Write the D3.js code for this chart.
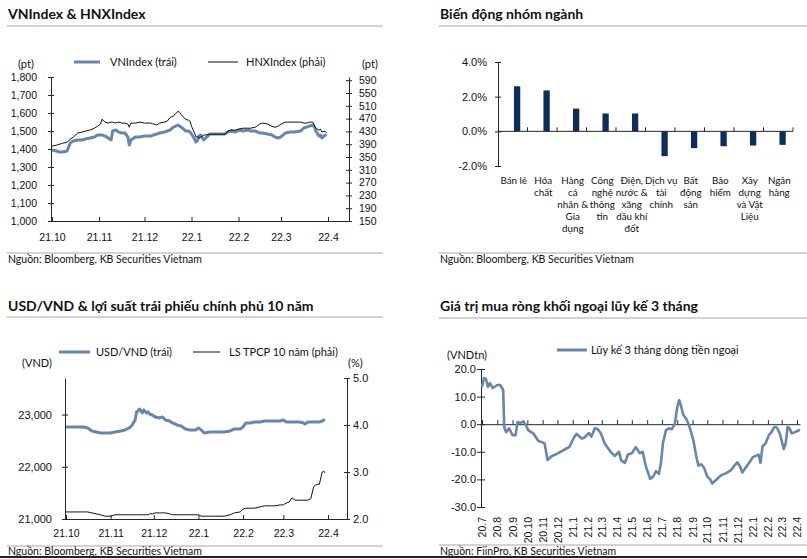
<!DOCTYPE html>
<html><head><meta charset="utf-8">
<script src="https://cdn.jsdelivr.net/npm/d3@7"></script>
<style>body{margin:0;background:#fff}svg{display:block}</style>
</head><body>
<svg id="c" width="807" height="559"></svg>
<script>
// ---------------- DATA ----------------
const indexDates = ["2021-10-01","2021-10-04","2021-10-06","2021-10-08","2021-10-11","2021-10-13","2021-10-15","2021-10-18","2021-10-21","2021-10-23","2021-10-26","2021-10-29","2021-10-31",
"2021-11-02","2021-11-03","2021-11-05","2021-11-07","2021-11-09","2021-11-10","2021-11-12","2021-11-14","2021-11-16","2021-11-18","2021-11-20","2021-11-21","2021-11-22","2021-11-25","2021-11-28",
"2021-12-01","2021-12-05","2021-12-07","2021-12-09","2021-12-11","2021-12-14","2021-12-16","2021-12-18","2021-12-20","2021-12-22","2021-12-23","2021-12-24","2021-12-26","2021-12-28","2021-12-30","2021-12-31",
"2022-01-01","2022-01-03","2022-01-04","2022-01-05","2022-01-06","2022-01-07","2022-01-09","2022-01-13","2022-01-16","2022-01-19","2022-01-23","2022-01-25","2022-01-27","2022-01-30",
"2022-02-01","2022-02-04","2022-02-07","2022-02-09","2022-02-12","2022-02-15","2022-02-17","2022-02-20","2022-02-23","2022-02-25","2022-02-27",
"2022-03-01","2022-03-04","2022-03-07","2022-03-10","2022-03-14","2022-03-16","2022-03-18","2022-03-20","2022-03-22","2022-03-23","2022-03-24","2022-03-26","2022-03-27","2022-03-28","2022-03-30","2022-03-31"];
const vnIndex = [1394,1389,1383,1383,1389,1433,1444,1450,1450,1456,1461,1467,1478,
1478,1478,1472,1461,1450,1500,1506,1494,1489,1489,1467,1422,1450,1467,1467,
1472,1472,1478,1483,1489,1494,1500,1506,1522,1528,1533,1528,1517,1500,1500,1494,
1483,1456,1439,1450,1472,1478,1450,1483,1483,1483,1483,1494,1500,1494,
1506,1500,1506,1500,1500,1489,1489,1483,1478,1467,1461,
1467,1489,1494,1494,1500,1517,1522,1528,1533,1522,1500,1472,1478,1461,1478,1472];
const hnxIndex = [384,387,390,393,396,406,412,425,428,431,434,440,446,
453,468,459,456,459,459,456,459,456,456,453,443,456,456,459,
456,456,453,450,456,459,462,474,478,487,493,490,478,468,465,462,
446,425,412,415,409,412,418,421,421,421,421,431,434,434,
437,440,440,440,443,453,456,453,446,443,446,
453,459,459,459,459,456,456,459,459,450,440,434,437,428,431,425];
const indexMonthTicks = ["2021-10-01","2021-11-01","2021-12-01","2022-01-01","2022-02-01","2022-03-01","2022-04-01"];
const vnTicks = [1000,1100,1200,1300,1400,1500,1600,1700,1800];
const hnxTicks = [150,190,230,270,310,350,390,430,470,510,550,590];

const sectorNames = ["Bán lẻ","Hóa\nchất","Hàng\ncá\nnhân &\nGia\ndụng","Công\nnghệ\nthông\ntin","Điện,\nnước &\nxăng\ndầu khí\nđốt","Dịch vụ\ntài\nchính","Bất\nđộng\nsản","Bảo\nhiểm","Xây\ndựng\nvà Vật\nLiệu","Ngân\nhàng"];
const sectorChange = [2.6, 2.36, 1.31, 1.03, 1.03, -1.43, -0.97, -0.86, -0.82, -0.78];
const sectorTicks = [-2, 0, 2, 4];

const fxDates = ["2021-10-01","2021-10-05","2021-10-09","2021-10-13","2021-10-16","2021-10-19","2021-10-22","2021-10-25","2021-10-28",
"2021-11-01","2021-11-04","2021-11-08","2021-11-11","2021-11-14","2021-11-16","2021-11-18","2021-11-19","2021-11-20","2021-11-21","2021-11-23","2021-11-24","2021-11-26","2021-11-27","2021-11-28","2021-11-30",
"2021-12-02","2021-12-05","2021-12-07","2021-12-09","2021-12-12","2021-12-14","2021-12-17","2021-12-20","2021-12-23","2021-12-26","2021-12-30",
"2022-01-01","2022-01-03","2022-01-05","2022-01-09","2022-01-12","2022-01-16","2022-01-19","2022-01-23","2022-01-26","2022-01-30",
"2022-02-01","2022-02-03","2022-02-06","2022-02-09","2022-02-13","2022-02-16","2022-02-20","2022-02-23","2022-02-27",
"2022-03-01","2022-03-03","2022-03-05","2022-03-07","2022-03-09","2022-03-12","2022-03-15","2022-03-16","2022-03-18","2022-03-20","2022-03-22","2022-03-23","2022-03-25","2022-03-26","2022-03-28","2022-03-29","2022-03-30"];
const usdVnd = [22762,22762,22762,22762,22743,22686,22667,22648,22648,
22648,22667,22686,22705,22743,22801,22897,23050,23069,23107,23031,23088,23031,23050,23011,22992,
22954,22935,22954,22897,22877,22839,22801,22782,22724,22705,22705,
22743,22705,22648,22667,22667,22667,22667,22686,22724,22724,
22762,22839,22839,22858,22858,22877,22877,22877,22877,
22897,22858,22858,22858,22858,22858,22839,22820,22858,22858,22858,22858,22858,22858,22877,22897,22897];
const bondYield10y = [2.15,2.15,2.15,2.15,2.15,2.13,2.11,2.09,2.06,
2.06,2.09,2.09,2.09,2.09,2.09,2.09,2.09,2.09,2.09,2.09,2.09,2.09,2.09,2.11,2.11,
2.13,2.13,2.13,2.13,2.11,2.09,2.09,2.09,2.09,2.09,2.09,
2.09,2.06,2.06,2.06,2.06,2.06,2.06,2.09,2.13,2.15,
2.21,2.23,2.23,2.23,2.26,2.28,2.28,2.28,2.30,
2.30,2.34,2.36,2.45,2.40,2.40,2.40,2.40,2.40,2.43,2.68,2.72,2.74,2.74,3.00,3.02,2.98];
const fxTicks = [21000, 22000, 23000];
const yieldTicks = [2, 3, 4, 5];

const flowDates = ["2020-07-01","2020-07-05","2020-07-09","2020-07-13","2020-07-17","2020-07-23","2020-08-01","2020-08-07","2020-08-13","2020-08-15","2020-08-19","2020-08-25",
"2020-09-01","2020-09-07","2020-09-11","2020-09-17","2020-09-23","2020-09-27","2020-10-03","2020-10-13","2020-10-23","2020-10-30","2020-11-05","2020-11-11","2020-11-19","2020-11-27",
"2020-12-07","2020-12-17","2020-12-25","2021-01-03","2021-01-09","2021-01-19","2021-01-25","2021-02-03","2021-02-08","2021-02-15","2021-02-21","2021-02-27",
"2021-03-07","2021-03-13","2021-03-19","2021-03-27","2021-04-05","2021-04-09","2021-04-17","2021-04-23","2021-05-01","2021-05-09","2021-05-17","2021-05-23","2021-05-29",
"2021-06-07","2021-06-13","2021-06-19","2021-06-25","2021-06-29","2021-07-03","2021-07-09","2021-07-15","2021-07-21","2021-07-27","2021-08-01","2021-08-05","2021-08-09","2021-08-13","2021-08-19","2021-08-23","2021-08-27",
"2021-09-03","2021-09-09","2021-09-13","2021-09-19","2021-09-25","2021-10-01","2021-10-07","2021-10-11","2021-10-17","2021-10-23","2021-10-29","2021-11-05","2021-11-11","2021-11-19","2021-11-25",
"2021-12-01","2021-12-07","2021-12-11","2021-12-17","2021-12-25","2022-01-01","2022-01-07","2022-01-13","2022-01-17","2022-01-21","2022-01-27","2022-02-03","2022-02-08","2022-02-14","2022-02-19","2022-02-25",
"2022-03-01","2022-03-05","2022-03-09","2022-03-13","2022-03-17","2022-03-21","2022-03-27","2022-04-01","2022-04-07"];
const foreignFlow3m = [13.5,16.7,16.4,13.5,14.9,13.1,14.2,14.2,12.4,-1.0,-2.9,-1.5,
-4.0,-4.0,0.7,0.5,1.0,0.0,-2.2,-3.3,-6.0,-6.5,-7.0,-13.0,-11.6,-11.0,
-10.0,-9.0,-8.3,-5.0,-3.5,-5.2,-4.8,-3.2,-4.5,-1.5,-1.8,-3.3,
-7.0,-8.5,-10.0,-11.5,-10.0,-13.0,-14.0,-11.0,-10.5,-8.3,-10.5,-10.0,-15.0,
-19.8,-19.0,-17.0,-18.0,-14.0,-7.0,-2.2,-1.5,-1.8,0.0,6.0,8.7,6.5,3.5,2.0,0.5,-1.5,
-6.0,-12.0,-15.0,-14.5,-16.0,-19.0,-20.0,-21.5,-20.5,-19.5,-18.5,-18.0,-17.5,-16.5,-15.0,
-13.8,-15.5,-17.5,-16.0,-14.0,-12.0,-11.5,-11.0,-14.0,-8.0,-7.0,-4.0,-3.0,-1.0,-1.2,-3.3,
-6.0,-9.0,-7.0,-1.0,-1.5,-3.3,-3.0,-2.5,-2.0];
const flowTicks = [-30, -20, -10, 0, 10, 20];
const flowMonthStart = "2020-07-01", flowMonthEnd = "2022-04-01";

// ---------------- STYLE ----------------
const svg = d3.select("#c");
const TF = "Lato, 'Open Sans', sans-serif";
const AF = "'Liberation Sans', Arial, sans-serif";
const BLUE = "#6985ab", NAVY = "#0d2e57", AX = "#262626", GRAY = "#c4c4c4";
const parse = d3.timeParse("%Y-%m-%d");
const mfmt = d3.timeFormat("%y.%-m");
const dec1 = d => (d < 0 ? "-" : "") + Math.abs(d).toFixed(1);

function txt(x, y, s, o = {}) {
  return svg.append("text").attr("x", x).attr("y", y).text(s)
    .attr("font-family", o.ff || TF).attr("font-size", o.fs || 11)
    .attr("font-weight", o.fw || "normal").attr("fill", o.fill || "#111")
    .attr("text-anchor", o.anchor || "start");
}
function hline(x1, x2, y, c, w) {
  svg.append("line").attr("x1", x1).attr("x2", x2).attr("y1", y).attr("y2", y).attr("stroke", c).attr("stroke-width", w);
}
function header(x, y, x2, ly, s) {
  txt(x, y, s, {fs: 14, fw: "bold", fill: "#111"});
  hline(x - 1, x2, ly, GRAY, 1.6);
}
function source(x, y, x2, ly, s) {
  hline(x - 1, x2, ly, GRAY, 1.3);
  txt(x, y, s, {fs: 10.5, fill: "#111"});
}
function styleAxis(g, fs) {
  g.attr("font-family", AF).attr("font-size", fs || 10.5);
  g.selectAll("path.domain").attr("stroke", AX);
  g.selectAll(".tick line").attr("stroke", AX);
  g.selectAll(".tick text").attr("fill", "#111");
}
function legendLine(x1, x2, y, c, w) {
  svg.append("line").attr("x1", x1).attr("x2", x2).attr("y1", y).attr("y2", y).attr("stroke", c).attr("stroke-width", w);
}
function timeX(d0, d1, r0, r1, a0, a1) {
  const s = d3.scaleTime().domain([parse(d0), parse(d1)]).range([r0, r1]);
  return s.domain([s.invert(a0), s.invert(a1)]).range([a0, a1]);
}

// ---------------- PANEL 1: VNIndex & HNXIndex ----------------
header(8, 19, 383, 26, "VNIndex & HNXIndex");
{
  const x = timeX("2021-10-01", "2022-04-01", 52, 328, 51, 349);
  const yL = d3.scaleLinear().domain([1000, 1800]).range([221, 77]);
  const yR = d3.scaleLinear().domain([150, 600]).range([221, 77]);
  const gx = svg.append("g").attr("transform", "translate(0,221)")
    .call(d3.axisBottom(x).tickValues(indexMonthTicks.map(parse)).tickFormat(mfmt).tickSize(-4).tickSizeOuter(0).tickPadding(13));
  styleAxis(gx);
  const gl = svg.append("g").attr("transform", "translate(51,0)")
    .call(d3.axisLeft(yL).tickValues(vnTicks).tickFormat(d3.format(",")).tickSize(3).tickSizeOuter(0).tickPadding(11));
  gl.selectAll(".tick line").attr("x1", 3);
  styleAxis(gl);
  const gr = svg.append("g").attr("transform", "translate(349,0)")
    .call(d3.axisRight(yR).tickValues(hnxTicks).tickSize(3).tickSizeOuter(0).tickPadding(7));
  gr.selectAll(".tick line").attr("x1", -3);
  styleAxis(gr);
  const vn = indexDates.map((d, i) => [parse(d), vnIndex[i]]);
  const hnx = indexDates.map((d, i) => [parse(d), hnxIndex[i]]);
  svg.append("path").datum(vn).attr("fill", "none").attr("stroke", BLUE).attr("stroke-width", 3).attr("stroke-linejoin", "round")
    .attr("d", d3.line().x(d => x(d[0])).y(d => yL(d[1])));
  svg.append("path").datum(hnx).attr("fill", "none").attr("stroke", "#111").attr("stroke-width", 1).attr("stroke-linejoin", "round")
    .attr("d", d3.line().x(d => x(d[0])).y(d => yR(d[1])));
  legendLine(74, 100, 62, BLUE, 3);
  txt(110, 66, "VNIndex (trái)");
  legendLine(208, 238, 62, "#111", 1);
  txt(246, 66, "HNXIndex (phải)");
  txt(18, 68, "(pt)");
  txt(362, 68, "(pt)");
}
source(8, 263, 383, 253, "Nguồn: Bloomberg, KB Securities Vietnam");

// ---------------- PANEL 2: Biến động nhóm ngành ----------------
header(440, 19, 807, 26, "Biến động nhóm ngành");
{
  const xb = d3.scaleBand().domain(sectorNames).range([498, 793]).padding(0);
  const y = d3.scaleLinear().domain([-2, 4]).range([166, 62]);
  const gl = svg.append("g").attr("transform", "translate(498,0)")
    .call(d3.axisLeft(y).tickValues(sectorTicks).tickFormat(d => dec1(d) + "%").tickSize(3).tickSizeOuter(0).tickPadding(8));
  gl.selectAll(".tick line").attr("x1", 3);
  styleAxis(gl, 11);
  svg.selectAll("rect.bar").data(sectorNames).enter().append("rect").attr("class", "bar")
    .attr("x", d => xb(d) + xb.bandwidth() / 2 + 1.2)
    .attr("width", 6.3)
    .attr("y", (d, i) => Math.min(y(sectorChange[i]), y(0)))
    .attr("height", (d, i) => Math.abs(y(sectorChange[i]) - y(0)))
    .attr("fill", NAVY);
  hline(498, 793, y(0), AX, 1);
  sectorNames.forEach(n => {
    const bx = xb(n) + xb.bandwidth();
    svg.append("line").attr("x1", bx).attr("x2", bx).attr("y1", y(0) - 4).attr("y2", y(0)).attr("stroke", AX);
    const t = svg.append("text").attr("font-family", TF).attr("font-size", 9.8).attr("fill", "#111").attr("text-anchor", "middle");
    n.split("\n").forEach((ln, k) => {
      t.append("tspan").attr("x", xb(n) + xb.bandwidth() / 2 + 1).attr("y", 184 + k * 12).text(ln);
    });
  });
}
source(440, 263, 807, 253, "Nguồn: Bloomberg, KB Securities Vietnam");

// ---------------- PANEL 3: USD/VND & bond yield ----------------
header(8, 311, 383, 317, "USD/VND & lợi suất trái phiếu chính phủ 10 năm");
{
  const x = timeX("2021-10-01", "2022-04-01", 66, 328, 65, 347);
  const yL = d3.scaleLinear().domain([21000, 23700]).range([519, 378]);
  const yR = d3.scaleLinear().domain([2, 5]).range([519, 378]);
  const gx = svg.append("g").attr("transform", "translate(0,519)")
    .call(d3.axisBottom(x).tickValues(indexMonthTicks.map(parse)).tickFormat(mfmt).tickSize(-4).tickSizeOuter(0).tickPadding(11));
  styleAxis(gx);
  const gl = svg.append("g").attr("transform", "translate(65,0)")
    .call(d3.axisLeft(yL).tickValues(fxTicks).tickFormat(d3.format(",")).tickSize(3).tickSizeOuter(0).tickPadding(10));
  gl.selectAll(".tick line").attr("x1", 3);
  styleAxis(gl, 11);
  const gr = svg.append("g").attr("transform", "translate(347,0)")
    .call(d3.axisRight(yR).tickValues(yieldTicks).tickFormat(d3.format(".1f")).tickSize(3).tickSizeOuter(0).tickPadding(3));
  gr.selectAll(".tick line").attr("x1", -3);
  styleAxis(gr, 11);
  const fx = fxDates.map((d, i) => [parse(d), usdVnd[i]]);
  const by = fxDates.map((d, i) => [parse(d), bondYield10y[i]]);
  svg.append("path").datum(fx).attr("fill", "none").attr("stroke", BLUE).attr("stroke-width", 3).attr("stroke-linejoin", "round")
    .attr("d", d3.line().x(d => x(d[0])).y(d => yL(d[1])));
  svg.append("path").datum(by).attr("fill", "none").attr("stroke", "#111").attr("stroke-width", 1).attr("stroke-linejoin", "round")
    .attr("d", d3.line().x(d => x(d[0])).y(d => yR(d[1])));
  legendLine(59, 90, 352, BLUE, 3);
  txt(96, 356, "USD/VND (trái)");
  legendLine(193, 220, 352, "#111", 1);
  txt(229, 356, "LS TPCP 10 năm (phải)");
  txt(22, 367, "(VND)");
  txt(348, 367, "(%)");
}
source(8, 555, 383, 546, "Nguồn: Bloomberg, KB Securities Vietnam");

// ---------------- PANEL 4: Foreign net buying ----------------
header(440, 311, 807, 318, "Giá trị mua ròng khối ngoại lũy kế 3 tháng");
{
  const x = timeX(flowMonthStart, flowMonthEnd, 482, 797, 481, 800);
  const y = d3.scaleLinear().domain([-30, 20]).range([507, 369]);
  const months = d3.timeMonths(parse(flowMonthStart), d3.timeDay.offset(parse(flowMonthEnd), 1));
  const gl = svg.append("g").attr("transform", "translate(481,0)")
    .call(d3.axisLeft(y).tickValues(flowTicks).tickFormat(dec1).tickSize(4).tickSizeOuter(0).tickPadding(1));
  gl.selectAll(".tick line").attr("x1", 4);
  styleAxis(gl, 11);
  const g0 = svg.append("g").attr("transform", "translate(0," + y(0) + ")")
    .call(d3.axisBottom(x).tickValues(months).tickFormat("").tickSize(-4).tickSizeOuter(0));
  styleAxis(g0);
  const gt = svg.append("g").attr("transform", "translate(0,517)")
    .call(d3.axisBottom(x).tickValues(months).tickFormat(mfmt).tickSize(0).tickPadding(0));
  gt.select("path.domain").remove();
  gt.selectAll(".tick text").attr("transform", "rotate(-90)").attr("text-anchor", "end").attr("x", 0).attr("y", 0).attr("dy", "0.35em");
  styleAxis(gt);
  const fl = flowDates.map((d, i) => [parse(d), foreignFlow3m[i]]);
  svg.append("path").datum(fl).attr("fill", "none").attr("stroke", BLUE).attr("stroke-width", 2.6).attr("stroke-linejoin", "round")
    .attr("d", d3.line().x(d => x(d[0])).y(d => y(d[1])));
  legendLine(557, 587, 350, BLUE, 3);
  txt(591, 354, "Lũy kế 3 tháng dòng tiền ngoại");
  txt(447, 359, "(VNDtn)");
}
source(440, 555, 807, 545, "Nguồn: FiinPro, KB Securities Vietnam");
svg.append("rect").attr("x", 0).attr("y", 556).attr("width", 807).attr("height", 2).attr("fill", "#222");
</script>
</body></html>
